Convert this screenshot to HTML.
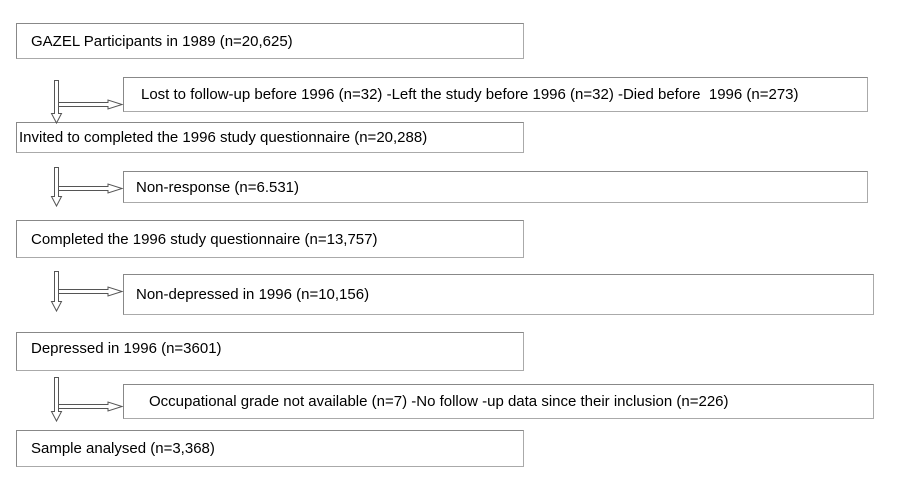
<!DOCTYPE html>
<html><head><meta charset="utf-8"><style>
body{margin:0;width:904px;height:483px;background:#fff;position:relative;overflow:hidden;font-family:"Liberation Sans",Arial,sans-serif;font-size:15px;color:#000}
.b{position:absolute;box-sizing:border-box;border:1px solid #888;border-right-color:#aaa;border-bottom-color:#aaa;white-space:nowrap;display:flex;align-items:center}
svg{position:absolute;left:0;top:0}
</style></head><body>
<div class="b" style="left:16px;top:23px;width:508px;height:36px;padding-left:14px">GAZEL Participants in 1989 (n=20,625)</div>
<div class="b" style="left:123px;top:77px;width:745px;height:35px;padding-left:17px">Lost to follow-up before 1996 (n=32) -Left the study before 1996 (n=32) -Died before &nbsp;1996 (n=273)</div>
<div class="b" style="left:16px;top:122px;width:508px;height:31px;padding-left:2px">Invited to completed the 1996 study questionnaire (n=20,288)</div>
<div class="b" style="left:123px;top:171px;width:745px;height:32px;padding-left:12px">Non-response (n=6.531)</div>
<div class="b" style="left:16px;top:220px;width:508px;height:38px;padding-left:14px">Completed the 1996 study questionnaire (n=13,757)</div>
<div class="b" style="left:123px;top:274px;width:751px;height:41px;padding-left:12px">Non-depressed in 1996 (n=10,156)</div>
<div class="b" style="left:16px;top:332px;width:508px;height:39px;padding-left:14px;align-items:flex-start;padding-top:7px">Depressed in 1996 (n=3601)</div>
<div class="b" style="left:123px;top:384px;width:751px;height:35px;padding-left:25px">Occupational grade not available (n=7) -No follow -up data since their inclusion (n=226)</div>
<div class="b" style="left:16px;top:430px;width:508px;height:37px;padding-left:14px">Sample analysed (n=3,368)</div>
<svg width="904" height="483" viewBox="0 0 904 483">
<g fill="#fff" stroke="#555" stroke-width="1">
<path d="M54.5 80.5 H58.5 V113.5 H61.5 L56.5 123 L51.5 113.5 H54.5 Z"/>
<path d="M59 102.5 H108 V100 L122 104.5 L108 109 V106.5 H59"/>
<path d="M54.5 167.5 H58.5 V196.5 H61.5 L56.5 206 L51.5 196.5 H54.5 Z"/>
<path d="M59 186.5 H108 V184 L122 188.5 L108 193 V190.5 H59"/>
<path d="M54.5 271.5 H58.5 V301.5 H61.5 L56.5 311 L51.5 301.5 H54.5 Z"/>
<path d="M59 289.5 H108 V287 L122 291.5 L108 296 V293.5 H59"/>
<path d="M54.5 377.5 H58.5 V411.5 H61.5 L56.5 421 L51.5 411.5 H54.5 Z"/>
<path d="M59 404.5 H108 V402 L122 406.5 L108 411 V408.5 H59"/>
</g>
</svg>
</body></html>
